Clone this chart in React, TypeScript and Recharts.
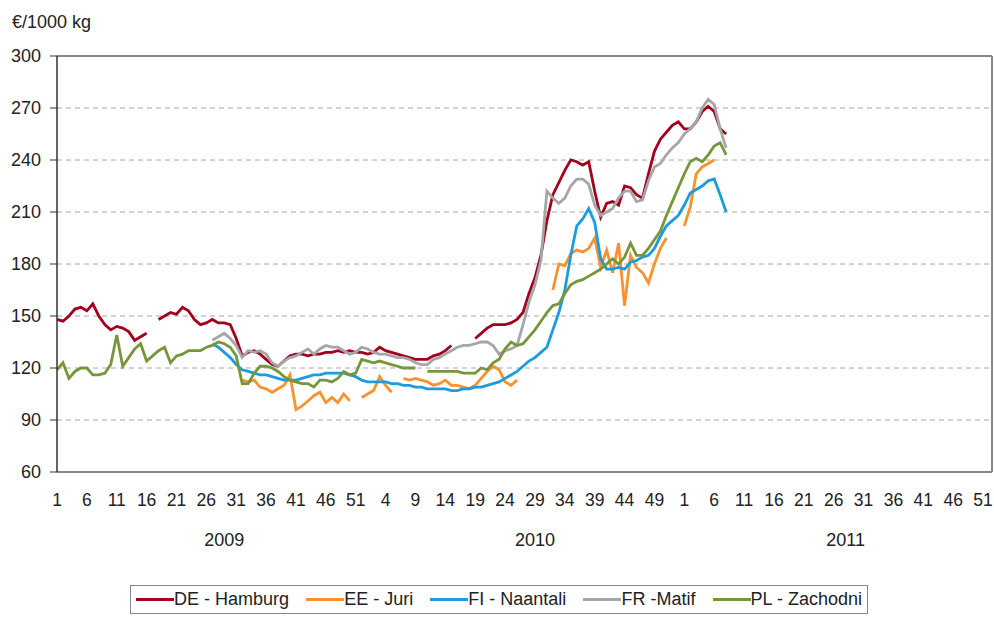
import React from 'react';
import { LineChart, Line, XAxis, YAxis, CartesianGrid, ReferenceLine } from 'recharts';

// weekly categories: 2009 (52 weeks), 2010 (53 weeks), 2011 (52 weeks)
const yearNames = ['2009', '2010', '2011'];
const weekCounts = [52, 53, 52];
// week under which the year caption sits
const yearCaptionWeek = [29, 29, 28];
const yTicks = [60, 90, 120, 150, 180, 210, 240, 270, 300];

// prices, €/1000 kg, one value per week starting 2009 week 1 (null = no quote)
const deHamburg = [
  148, 147, 150, 154, 155, 153, 157, 150, 145, 142,
  144, 143, 141, 136, 138, 140, null, 148, 150, 152,
  151, 155, 153, 148, 145, 146, 148, 146, 146, 145,
  137, 127, 129, 130, 128, 125, 122, 121, 124, 127,
  128, 128, 127, 128, 128, 129, 129, 130, 129, 130,
  129, 129, 128, 129, 132, 130, 129, 128, 127, 126,
  125, 125, 125, 127, 128, 130, 133, null, null, null,
  137, 140, 143, 145, 145, 145, 146, 148, 152, 163,
  172, 185, 205, 220, 227, 234, 240, 239, 237, 239,
  222, 207, 215, 216, 214, 225, 224, 220, 218, 232,
  245, 252, 256, 260, 262, 258, 258, 262, 268, 271,
  268, 258, 255,
];

const eeJuri = [
  null, null, null, null, null, null, null, null, null, null,
  null, null, null, null, null, null, null, null, null, null,
  null, null, null, null, null, null, null, null, null, null,
  null, 113, 112, 113, 109, 108, 106, 108, 110, 116,
  96, 98, 101, 104, 106, 100, 103, 100, 105, 101,
  null, 103, 105, 107, 115, 110, 106, null, 114, 113,
  114, 113, 112, 110, 111, 113, 110, 110, 109, 108,
  110, 114, 118, 121, 119, 112, 110, 113, null, null,
  null, null, null, 165, 180, 179, 186, 188, 187, 189,
  195, 178, 188, 175, 192, 156, 185, 178, 175, 169,
  180, 189, 195, null, null, 202, 213, 232, 236, 238,
  240, null, null,
];

const fiNaantali = [
  null, null, null, null, null, null, null, null, null, null,
  null, null, null, null, null, null, null, null, null, null,
  null, null, null, null, null, null, 134, 132, 129, 126,
  122, 119, 118, 117, 116, 116, 115, 114, 113, 113,
  113, 114, 115, 116, 116, 117, 117, 117, 117, 116,
  115, 113, 112, 112, 112, 112, 111, 111, 110, 110,
  109, 109, 108, 108, 108, 108, 107, 107, 108, 108,
  109, 109, 110, 111, 112, 114, 116, 118, 121, 124,
  126, 129, 132, 142, 152, 165, 185, 202, 206, 212,
  204, 183, 177, 177, 178, 177, 181, 182, 184, 185,
  189, 196, 202, 205, 208, 214, 221, 223, 225, 228,
  229, 220, 210,
];

const frMatif = [
  null, null, null, null, null, null, null, null, null, null,
  null, null, null, null, null, null, null, null, null, null,
  null, null, null, null, null, null, 136, 138, 140, 137,
  133, 126, 130, 129, 130, 128, 123, 121, 124, 126,
  127, 129, 131, 128, 131, 133, 132, 132, 130, 128,
  129, 132, 131, 129, 128, 128, 127, 126, 126, 125,
  123, 122, 122, 125, 126, 128, 130, 132, 133, 133,
  134, 135, 135, 133, 128, 130, 131, 133, 145, 158,
  168, 182, 222, 218, 215, 218, 225, 229, 229, 226,
  214, 208, 210, 212, 218, 222, 222, 216, 217, 228,
  236, 238, 243, 247, 250, 255, 258, 262, 270, 275,
  272, 258, 247,
];

const plZachodni = [
  119, 123, 114, 118, 120, 120, 116, 116, 117, 122,
  139, 121, 126, 131, 134, 124, 127, 130, 132, 123,
  127, 128, 130, 130, 130, 132, 133, 135, 134, 132,
  127, 111, 111, 117, 121, 121, 120, 118, 115, 113,
  112, 111, 111, 109, 113, 113, 112, 114, 118, 116,
  117, 125, 124, 123, 124, 123, 122, 121, 120, 120,
  120, null, 118, 118, 118, 118, 118, 118, 117, 117,
  117, 120, 119, 123, 125, 131, 135, 133, 134, 138,
  142, 147, 152, 156, 157, 163, 168, 170, 171, 173,
  175, 177, 180, 183, 180, 184, 192, 185, 185, 189,
  194, 199, 208, 216, 224, 232, 239, 241, 239, 243,
  248, 250, 243,
];

const seriesKeys = ['de', 'ee', 'fi', 'fr', 'pl'];
const seriesNames = ['DE - Hamburg', 'EE - Juri', 'FI - Naantali', 'FR -Matif', 'PL - Zachodni'];
const seriesColors = ['#A3001E', '#F8922F', '#1C9BDE', '#A6A6A6', '#76963C'];
const seriesValues = [deHamburg, eeJuri, fiNaantali, frMatif, plZachodni];

const categories: { key: string; week: number; year: string }[] = [];
yearNames.forEach((yr, i) => {
  for (let w = 1; w <= weekCounts[i]; w++) categories.push({ key: `${yr}-${w}`, week: w, year: yr });
});

const data = categories.map((c, i) => {
  const row: any = { key: c.key };
  seriesKeys.forEach((k, s) => {
    const v = seriesValues[s][i];
    row[k] = v === undefined ? null : v;
  });
  return row;
});

const FONT = '"Liberation Sans", Arial, sans-serif';

const WeekTick = (props: any) => {
  const { x, y, payload } = props;
  const [yr, wk] = String(payload.value).split('-');
  const idx = categories.findIndex((c) => c.key === payload.value);
  const yi = yearNames.indexOf(yr);
  const showYear = yi >= 0 && yearCaptionWeek[yi] === Number(wk);
  return (
    <g>
      {idx % 5 === 0 && (
        <text x={x} y={y + 34} textAnchor="middle" fontSize={17.5} fill="#222" fontFamily={FONT}>
          {wk}
        </text>
      )}
      {showYear && (
        <text x={x} y={y + 74} textAnchor="middle" fontSize={18} fill="#222" fontFamily={FONT}>
          {yr}
        </text>
      )}
    </g>
  );
};

export default function App() {
  return (
    <div
      style={{
        position: 'absolute',
        left: 0,
        top: 0,
        width: 994,
        height: 617,
        background: '#fff',
        fontFamily: FONT,
        color: '#222',
      }}
    >
      <div style={{ position: 'absolute', left: 12, top: 12, fontSize: 18 }}>€/1000 kg</div>

      <LineChart width={994} height={617} data={data} margin={{ top: 56, right: 0, bottom: 0, left: 0 }}>
        <CartesianGrid vertical={false} stroke="#a8a8a8" strokeDasharray="5 4" />
        <XAxis
          dataKey="key"
          interval={0}
          tick={<WeekTick />}
          tickLine={false}
          tickSize={0}
          tickMargin={0}
          height={145}
          padding={{ left: 0, right: 3 }}
          axisLine={{ stroke: '#888', strokeWidth: 2 }}
        />
        <YAxis
          domain={[60, 300]}
          ticks={yTicks}
          width={57}
          tickSize={7}
          tickMargin={9}
          axisLine={{ stroke: '#333', strokeWidth: 1.5 }}
          tickLine={{ stroke: '#333' }}
          tick={{ fontSize: 18, fill: '#222', fontFamily: FONT }}
        />
        <YAxis
          yAxisId="r"
          orientation="right"
          domain={[60, 300]}
          width={2}
          tick={false}
          tickLine={false}
          axisLine={{ stroke: '#888', strokeWidth: 2 }}
        />
        <ReferenceLine y={300} stroke="#888" strokeWidth={2} />
        {seriesKeys.map((k, i) => (
          <Line
            key={k}
            type="linear"
            dataKey={k}
            name={seriesNames[i]}
            stroke={seriesColors[i]}
            strokeWidth={2.8}
            dot={false}
            activeDot={false}
            isAnimationActive={false}
          />
        ))}
      </LineChart>

      <div
        style={{
          position: 'absolute',
          left: 130,
          top: 585,
          width: 738,
          height: 29,
          border: '1px solid #888',
          boxSizing: 'border-box',
          display: 'flex',
          alignItems: 'center',
          justifyContent: 'space-between',
          padding: '0 5px',
          fontSize: 18,
          whiteSpace: 'nowrap',
        }}
      >
        {seriesNames.map((n, i) => (
          <div key={n} style={{ display: 'flex', alignItems: 'center' }}>
            <span style={{ display: 'inline-block', width: 38, height: 3, background: seriesColors[i] }} />
            <span>{n}</span>
          </div>
        ))}
      </div>
    </div>
  );
}
